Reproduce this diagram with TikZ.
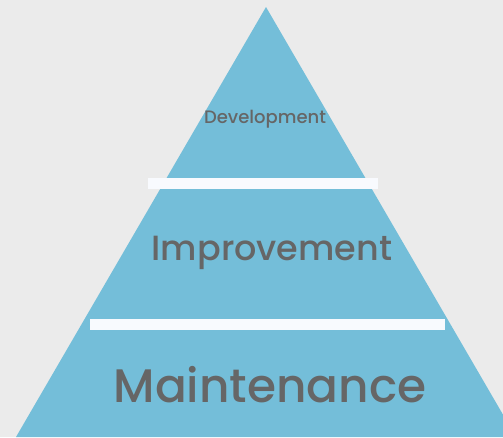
\documentclass[tikz,border=0pt]{standalone}
\usepackage{fontspec}
\setmainfont{Poppins Medium}
\definecolor{bgc}{HTML}{EBEBEB}
\definecolor{pyr}{HTML}{74BED9}
\definecolor{barc}{HTML}{F8FAFE}
\definecolor{txt}{HTML}{666666}
\tikzset{
  lvl/.style={text=txt, inner sep=0pt, anchor=base},
  sep/.style={fill=barc, draw=none}
}
\begin{document}
\begin{tikzpicture}[x=1pt,y=-1pt]
\useasboundingbox (0,0) rectangle (503,437);
\clip (0,0) rectangle (503,437);
\fill[bgc] (0,0) rectangle (503,437);
\fill[pyr] (266,7) -- (516,437) -- (16,437) -- cycle;
\fill[sep] (148,178) rectangle (378,189);
\fill[sep] (90,319) rectangle (445,330);
\node[lvl, font=\fontsize{18}{20}\selectfont] (dev) at (265,123) {Development};
\node[lvl, font=\fontsize{35}{40}\selectfont] (imp) at (272,260) {Improvement};
\node[lvl, font=\fontsize{47}{52}\selectfont] (mai) at (270,402) {Maintenance};
\end{tikzpicture}
\end{document}
